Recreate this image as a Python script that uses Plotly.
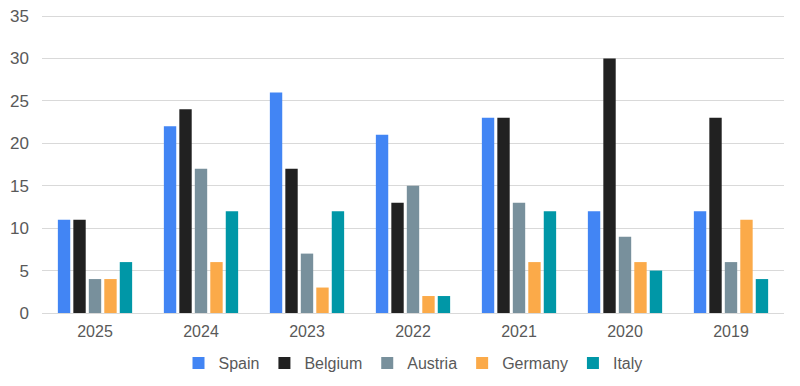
import plotly.graph_objects as go

categories = ["2025", "2024", "2023", "2022", "2021", "2020", "2019"]
spain = [11, 22, 26, 21, 23, 12, 12]
belgium = [11, 24, 17, 13, 23, 30, 23]
austria = [4, 17, 7, 15, 13, 9, 6]
germany = [4, 6, 3, 2, 6, 6, 11]
italy = [6, 12, 12, 2, 12, 5, 4]

series = [
    ("Spain", spain, "#4285F4"),
    ("Belgium", belgium, "#212121"),
    ("Austria", austria, "#78909C"),
    ("Germany", germany, "#FBAA49"),
    ("Italy", italy, "#0097A7"),
]

fig = go.Figure()
for name, vals, color in series:
    fig.add_trace(go.Bar(x=categories, y=vals, name=name, marker_color=color,
                         marker_line_width=0))

fig.update_layout(
    width=800, height=386,
    margin=dict(l=34, r=24, t=7, b=81, autoexpand=False),
    paper_bgcolor="white", plot_bgcolor="white",
    barmode="group", bargap=0.27, bargroupgap=0.2,
    font=dict(family="Liberation Sans, Arial", size=16, color="#595959"),
    legend=dict(orientation="h", x=0.5, xanchor="center", y=-0.168, yanchor="middle",
                font=dict(size=16, color="#595959"), itemwidth=30,
                traceorder="normal"),
    xaxis=dict(showgrid=False, showline=True, linecolor="#D9D9D9", ticks="",
               tickfont=dict(size=16), ticklabelstandoff=4, automargin=False),
    yaxis=dict(range=[0, 35.12], tickvals=[0, 5, 10, 15, 20, 25, 30, 35],
               showgrid=True, gridcolor="#D9D9D9",
               zeroline=False, ticks="", tickfont=dict(size=17), ticklabelstandoff=12,
               ticklabeloverflow="allow", automargin=False),
)

fig.write_html("out.html")
